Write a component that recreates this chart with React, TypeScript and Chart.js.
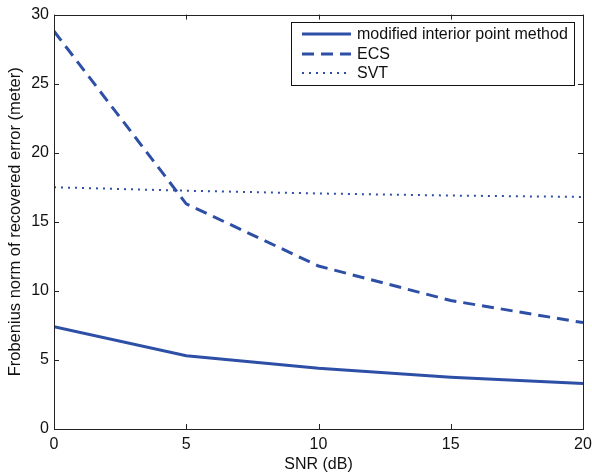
import React, { useEffect, useRef } from "react";
import { Chart, registerables } from "chart.js";

Chart.register(...registerables);

const snr = [0, 5, 10, 15, 20];
const mipm = [7.4, 5.3, 4.4, 3.75, 3.3];
const ecs = [28.8, 16.3, 11.8, 9.3, 7.7];
const svt = [17.5, 17.25, 17.05, 16.9, 16.8];
const labels = ["modified interior point method", "ECS", "SVT"];
const xTicks = [0, 5, 10, 15, 20];
const yTicks = [0, 5, 10, 15, 20, 25, 30];

const BLUE = "rgb(46,79,166)";
const FONT = "'Liberation Sans', Arial, Helvetica, sans-serif";

const framePlugin = {
  id: "frame",
  afterDraw(chart: any) {
    const ctx = chart.ctx;
    const { left, right, top, bottom } = chart.chartArea;
    const xs = chart.scales.x;
    const ys = chart.scales.y;
    ctx.save();
    ctx.strokeStyle = "#222";
    ctx.lineWidth = 1;
    ctx.beginPath();
    const tl = 5;
    for (const v of xTicks) {
      const px = Math.round(xs.getPixelForValue(v)) + 0.5;
      ctx.moveTo(px, bottom);
      ctx.lineTo(px, bottom - tl);
      ctx.moveTo(px, top);
      ctx.lineTo(px, top + tl);
    }
    for (const v of yTicks) {
      const py = Math.round(ys.getPixelForValue(v)) + 0.5;
      ctx.moveTo(left, py);
      ctx.lineTo(left + tl, py);
      ctx.moveTo(right, py);
      ctx.lineTo(right - tl, py);
    }
    ctx.stroke();
    ctx.strokeRect(Math.round(left) + 0.5, Math.round(top) + 0.5, Math.round(right - left), Math.round(bottom - top));

    // legend
    const bx = 291.5, by = 22.5, bw = 283, bh = 63;
    ctx.fillStyle = "#fff";
    ctx.fillRect(bx, by, bw, bh);
    ctx.strokeStyle = "#111";
    ctx.strokeRect(bx, by, bw, bh);
    const rows = [34, 54, 73];
    const dashes = [[], [12, 7], [2, 5]];
    const widths = [3, 3, 2];
    chart.data.datasets.forEach((ds: any, i: number) => {
      ctx.beginPath();
      ctx.strokeStyle = BLUE;
      ctx.lineWidth = widths[i];
      ctx.setLineDash(dashes[i]);
      ctx.moveTo(302, rows[i]);
      ctx.lineTo(351, rows[i]);
      ctx.stroke();
      ctx.setLineDash([]);
      ctx.fillStyle = "#111";
      ctx.font = `16px ${FONT}`;
      ctx.textBaseline = "middle";
      ctx.textAlign = "left";
      ctx.fillText(ds.label, 357, rows[i] + 1);
    });
    ctx.restore();
  },
};

export default function App() {
  const ref = useRef<HTMLCanvasElement>(null);
  useEffect(() => {
    if (!ref.current) return;
    const chart = new Chart(ref.current, {
      type: "line",
      data: {
        datasets: [
          {
            label: labels[0],
            data: snr.map((x, i) => ({ x, y: mipm[i] })),
            borderColor: BLUE,
            borderWidth: 3,
            pointRadius: 0,
            tension: 0,
          },
          {
            label: labels[1],
            data: snr.map((x, i) => ({ x, y: ecs[i] })),
            borderColor: BLUE,
            borderWidth: 3,
            borderDash: [12, 7],
            pointRadius: 0,
            tension: 0,
          },
          {
            label: labels[2],
            data: snr.map((x, i) => ({ x, y: svt[i] })),
            borderColor: BLUE,
            borderWidth: 2,
            borderDash: [2, 5],
            pointRadius: 0,
            tension: 0,
          },
        ],
      },
      options: {
        animation: false,
        responsive: false,
        layout: { padding: { left: 0, right: 0, top: 14, bottom: 0 } },
        plugins: { legend: { display: false }, tooltip: { enabled: false } },
        scales: {
          x: {
            type: "linear",
            min: 0,
            max: 20,
            grid: { display: false, drawTicks: false },
            border: { display: false },
            ticks: {
              stepSize: 5,
              padding: 6,
              color: "#111",
              font: { family: FONT, size: 16 },
            },
            title: {
              display: true,
              text: "SNR (dB)",
              color: "#111",
              font: { family: FONT, size: 16 },
              padding: { top: 0, bottom: 0 },
            },
            afterFit: (s: any) => {
              s.height = 45;
              s.paddingLeft = 0;
              s.paddingRight = 9;
            },
          },
          y: {
            type: "linear",
            min: 0,
            max: 30,
            grid: { display: false, drawTicks: false },
            border: { display: false },
            ticks: {
              stepSize: 5,
              padding: 5,
              color: "#111",
              font: { family: FONT, size: 16 },
            },
            title: {
              display: true,
              text: "Frobenius norm of recovered error (meter)",
              color: "#111",
              font: { family: FONT, size: 16.5 },
              padding: { top: 6, bottom: 0 },
            },
            afterFit: (s: any) => {
              s.width = 54;
            },
          },
        },
      },
      plugins: [framePlugin],
    });
    return () => chart.destroy();
  }, []);
  return (
    <div style={{ position: "fixed", left: 0, top: 0, width: 592, height: 474, background: "#fff" }}>
      <canvas ref={ref} width={592} height={474} style={{ display: "block" }} />
    </div>
  );
}
